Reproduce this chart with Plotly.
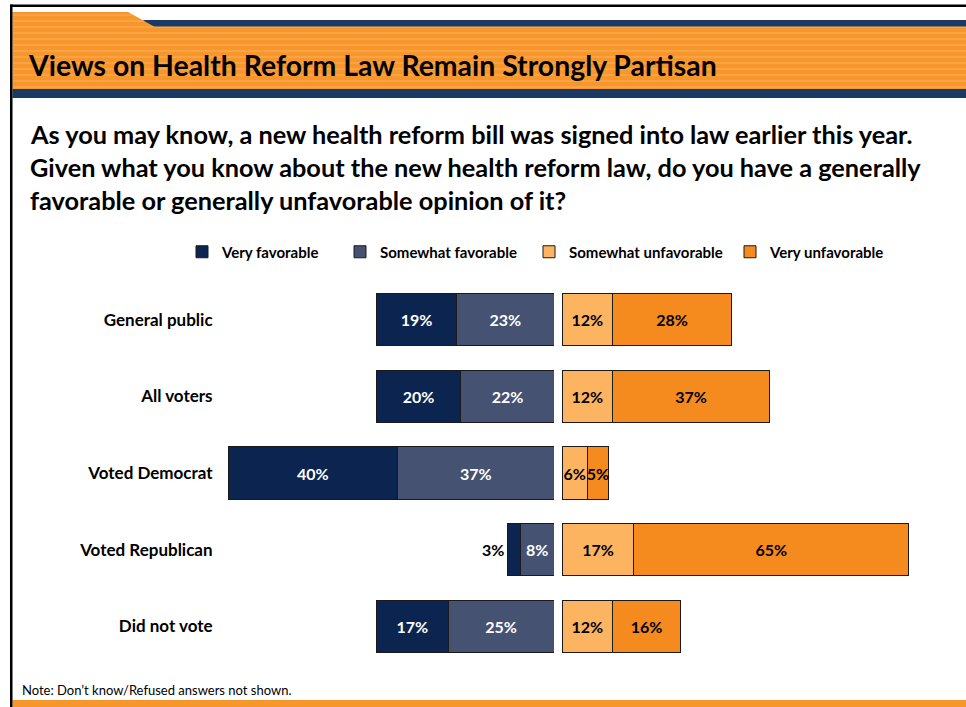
import plotly.graph_objects as go

# ---- data ----
categories = ["General public", "All voters", "Voted Democrat", "Voted Republican", "Did not vote"]
very_favorable = [19, 20, 40, 3, 17]
somewhat_favorable = [23, 22, 37, 8, 25]
somewhat_unfavorable = [12, 12, 6, 17, 12]
very_unfavorable = [28, 37, 5, 65, 16]

title_text = "Views on Health Reform Law Remain Strongly Partisan"
question_lines = [
    "As you may know, a new health reform bill was signed into law earlier this year.",
    "Given what you know about the new health reform law, do you have a generally",
    "favorable or generally unfavorable opinion of it?",
]
note_text = "Note: Don\u2019t know/Refused answers not shown."

W, H = 966, 707
FONT = "Lato"

def px(x):
    return x / W

def py(y):
    return 1 - y / H

C_VF = "#0B2450"
C_SF = "#465272"
C_SU = "#FCB460"
C_VU = "#F58A1F"
EDGE = "#1a1a1a"
LBL = 16

fig = go.Figure()

common = dict(orientation="h", texttemplate="%{x}%", textangle=0,
              insidetextanchor="middle", cliponaxis=False,
              textfont=dict(family=FONT, size=LBL, weight="bold"),
              marker_line=dict(color=EDGE, width=1))

fig.add_trace(go.Bar(name="Somewhat favorable", y=categories, x=somewhat_favorable,
                     xaxis="x", yaxis="y", marker_color=C_SF, legend="legend2",
                     textposition="inside",
                     insidetextfont=dict(color="white", family=FONT, size=LBL, weight="bold"),
                     **common))
fig.add_trace(go.Bar(name="Very favorable", y=categories, x=very_favorable,
                     xaxis="x", yaxis="y", marker_color=C_VF, legend="legend",
                     textposition=["inside", "inside", "inside", "outside", "inside"],
                     insidetextfont=dict(color="white", family=FONT, size=LBL, weight="bold"),
                     outsidetextfont=dict(color="black", family=FONT, size=LBL, weight="bold"),
                     **common))
fig.add_trace(go.Bar(name="Somewhat unfavorable", y=categories, x=somewhat_unfavorable,
                     xaxis="x2", yaxis="y", marker_color=C_SU, legend="legend3",
                     textposition="inside",
                     insidetextfont=dict(color="black", family=FONT, size=LBL, weight="bold"),
                     **common))
fig.add_trace(go.Bar(name="Very unfavorable", y=categories, x=very_unfavorable,
                     xaxis="x2", yaxis="y", marker_color=C_VU, legend="legend4",
                     textposition="inside",
                     insidetextfont=dict(color="black", family=FONT, size=LBL, weight="bold"),
                     **common))

def leg(xpix):
    return dict(orientation="h", x=px(xpix), y=py(252), xanchor="left", yanchor="middle",
                font=dict(family=FONT, size=15, color="black", weight="bold"),
                itemwidth=30, bgcolor="rgba(0,0,0,0)")

scale = 4.23  # px per percent
left_max, right_max = 80, 85
fig.update_layout(
    width=W, height=H,
    margin=dict(l=0, r=0, t=0, b=0),
    paper_bgcolor="white", plot_bgcolor="rgba(0,0,0,0)",
    barmode="stack", bargap=0.32,
    uniformtext=dict(minsize=LBL, mode="show"),
    xaxis=dict(domain=[px(554 - scale * left_max), px(554)], range=[left_max, 0],
               visible=False, fixedrange=True),
    xaxis2=dict(domain=[px(562), px(562 + scale * right_max)], range=[0, right_max],
                visible=False, anchor="y", fixedrange=True),
    yaxis=dict(domain=[py(664.5), py(281.5)], anchor="x",
               categoryorder="array", categoryarray=categories[::-1],
               showgrid=False, showline=False, zeroline=False, ticks="",
               ticklabelstandoff=2,
               tickfont=dict(family=FONT, size=17, color="black", weight="bold")),
    legend=leg(182), legend2=leg(340), legend3=leg(529), legend4=leg(730),
    showlegend=True,
)

shapes = []
# frame lines
shapes.append(dict(type="rect", xref="paper", yref="paper", x0=px(10), x1=px(966),
                   y0=py(7), y1=py(4.5), fillcolor="black", line_width=0, layer="above"))
shapes.append(dict(type="rect", xref="paper", yref="paper", x0=px(10), x1=px(12.5),
                   y0=py(707), y1=py(4.5), fillcolor="black", line_width=0, layer="above"))
# navy strip at top
shapes.append(dict(type="rect", xref="paper", yref="paper", x0=px(130), x1=px(966),
                   y0=py(27), y1=py(20), fillcolor="#1A3A63", line_width=0, layer="below"))
# orange header with tab
path = (f"M {px(12.5)},{py(12)} L {px(128)},{py(12)} L {px(155)},{py(27)} "
        f"L {px(966)},{py(27)} L {px(966)},{py(89)} L {px(12.5)},{py(89)} Z")
shapes.append(dict(type="path", xref="paper", yref="paper", path=path,
                   fillcolor="#F7962A", line_width=0, layer="below"))
# subtle stripes
for yy in range(15, 89, 6):
    x0 = 12.5
    x1 = 966 if yy >= 27 else 128 + (155 - 128) * (yy - 12) / 15
    shapes.append(dict(type="line", xref="paper", yref="paper", x0=px(x0), x1=px(x1),
                       y0=py(yy), y1=py(yy), line=dict(color="#FBB060", width=1), layer="below"))
# navy band below title
shapes.append(dict(type="rect", xref="paper", yref="paper", x0=px(12.5), x1=px(966),
                   y0=py(98), y1=py(89), fillcolor="#1A3A63", line_width=0, layer="below"))
# bottom orange band
shapes.append(dict(type="rect", xref="paper", yref="paper", x0=px(12.5), x1=px(966),
                   y0=py(707), y1=py(700), fillcolor="#F7962A", line_width=0, layer="below"))
fig.update_layout(shapes=shapes)

annotations = [
    dict(text=title_text, x=px(26), y=py(65), xref="paper", yref="paper",
         xanchor="left", yanchor="middle", showarrow=False,
         font=dict(family=FONT, size=28.4, color="black", weight="bold")),
    dict(text=note_text, x=px(20), y=py(690), xref="paper", yref="paper",
         xanchor="left", yanchor="middle", showarrow=False,
         font=dict(family=FONT, size=13, color="black")),
]
for i, line in enumerate(question_lines):
    annotations.append(dict(text=line, x=px(28), y=py(134 + 33 * i), xref="paper", yref="paper",
                            xanchor="left", yanchor="middle", showarrow=False,
                            font=dict(family=FONT, size=25.3, color="black", weight="bold")))
fig.update_layout(annotations=annotations)

fig.write_html("out.html")
